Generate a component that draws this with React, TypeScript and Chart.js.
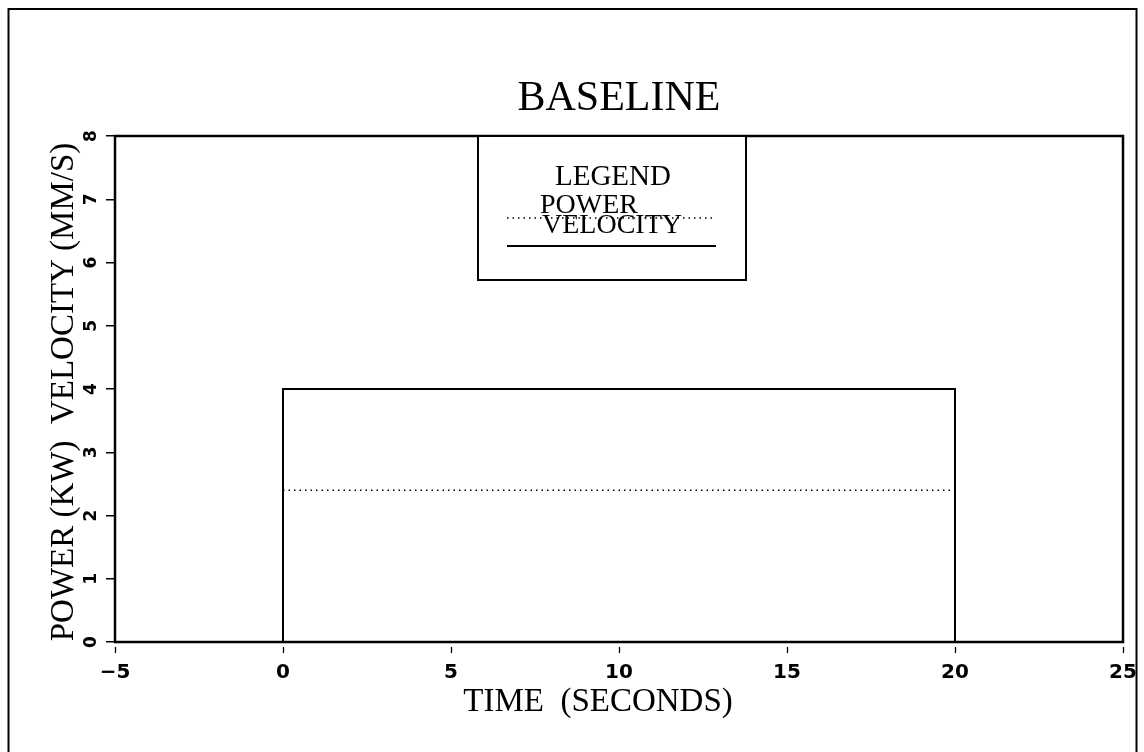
import React, { useEffect, useRef } from "react";
import { Chart, registerables } from "chart.js";

Chart.register(...registerables);

// Text
const chartTitle = "BASELINE";
const xAxisTitle = "TIME  (SECONDS)";
const yAxisTitle = "POWER (KW)  VELOCITY (MM/S)";
const legendHeading = "LEGEND";

// Axis ranges and tick labels
const xTickValues = [-5, 0, 5, 10, 15, 20, 25];
const yTickValues = [0, 1, 2, 3, 4, 5, 6, 7, 8];

// Power (kW) over time (s)
const powerTime = [0, 20];
const powerKw = [2.4, 2.4];

// Velocity (mm/s) over time (s): a step up at t=0 and back down at t=20
const velocityTime = [0, 0, 20, 20];
const velocityMmS = [0, 4, 4, 0];

const SERIF = '"Liberation Serif", "Times New Roman", serif';
const SANS = '"DejaVu Sans", sans-serif';

const toPoints = (xs: number[], ys: number[]) => xs.map((x, i) => ({ x, y: ys[i] }));

const decorations = {
  id: "decorations",
  afterDraw(chart: any) {
    const { ctx, chartArea } = chart;
    const { left, right, top, bottom } = chartArea;
    const xScale = chart.scales.x;
    ctx.save();
    ctx.strokeStyle = "#000";
    ctx.fillStyle = "#000";

    // page frame
    ctx.lineWidth = 2;
    ctx.strokeRect(8.5, 9, 1128, 800);

    // plot frame
    ctx.lineWidth = 2.5;
    ctx.strokeRect(left, top, right - left, bottom - top);

    // small detached tick marks under the time axis
    ctx.lineWidth = 1.3;
    for (const v of xTickValues) {
      const px = Math.round(xScale.getPixelForValue(v)) + 0.5;
      ctx.beginPath();
      ctx.moveTo(px, bottom + 5);
      ctx.lineTo(px, bottom + 11);
      ctx.stroke();
    }

    // chart title
    ctx.font = `42px ${SERIF}`;
    ctx.textAlign = "center";
    ctx.textBaseline = "alphabetic";
    ctx.fillText(chartTitle, (left + right) / 2, 110);

    // x axis title
    ctx.font = `33px ${SERIF}`;
    ctx.fillText(xAxisTitle, (left + right) / 2 - 21, 711);

    // y axis title (rotated)
    ctx.save();
    ctx.translate(73, (top + bottom) / 2 + 3);
    ctx.rotate(-Math.PI / 2);
    ctx.font = `33px ${SERIF}`;
    ctx.textAlign = "center";
    ctx.fillText(yAxisTitle, 0, 0);
    ctx.restore();

    // legend box
    const bx = left + 363;
    const bw = 268;
    const bh = 144;
    ctx.fillStyle = "#fff";
    ctx.fillRect(bx, top, bw, bh);
    ctx.fillStyle = "#000";
    ctx.lineWidth = 2;
    ctx.strokeRect(bx, top, bw, bh);

    ctx.font = `29px ${SERIF}`;
    ctx.textAlign = "left";
    ctx.fillText(legendHeading, bx + 77, top + 49);

    const dsPower = chart.data.datasets[0];
    const dsVel = chart.data.datasets[1];
    ctx.font = `28px ${SERIF}`;
    ctx.fillText(dsPower.label, bx + 62, top + 77);
    ctx.fillText(dsVel.label, bx + 64, top + 97);

    ctx.lineWidth = dsPower.borderWidth;
    ctx.setLineDash(dsPower.borderDash);
    ctx.beginPath();
    ctx.moveTo(bx + 29, top + 82);
    ctx.lineTo(bx + 234, top + 82);
    ctx.stroke();

    ctx.setLineDash([]);
    ctx.lineWidth = dsVel.borderWidth;
    ctx.beginPath();
    ctx.moveTo(bx + 29, top + 110);
    ctx.lineTo(bx + 238, top + 110);
    ctx.stroke();

    ctx.restore();
  },
};

export default function App() {
  const canvasRef = useRef<HTMLCanvasElement | null>(null);

  useEffect(() => {
    const canvas = canvasRef.current;
    if (!canvas) return;
    const chart = new Chart(canvas, {
      type: "line",
      data: {
        datasets: [
          {
            label: "POWER",
            data: toPoints(powerTime, powerKw),
            borderColor: "#000",
            borderWidth: 1.5,
            borderDash: [1.5, 4],
            pointRadius: 0,
            fill: false,
          },
          {
            label: "VELOCITY",
            data: toPoints(velocityTime, velocityMmS),
            borderColor: "#000",
            borderWidth: 2,
            pointRadius: 0,
            fill: false,
          },
        ],
      },
      options: {
        responsive: false,
        animation: false,
        events: [],
        layout: { padding: { top: 136, right: 21, left: 0, bottom: 0 } },
        plugins: {
          legend: { display: false },
          title: { display: false },
          tooltip: { enabled: false },
        },
        scales: {
          x: {
            type: "linear",
            min: xTickValues[0],
            max: xTickValues[xTickValues.length - 1],
            afterBuildTicks: (s: any) => {
              s.ticks = xTickValues.map((v) => ({ value: v }));
            },
            border: { display: false },
            grid: { display: false, drawTicks: false },
            ticks: {
              color: "#000",
              padding: 19,
              font: { family: SANS, size: 20, weight: "bold" },
              callback: (v: any) => String(v).replace("-", "\u2212"),
            },
            afterFit: (s: any) => {
              s.height = 110;
              s.paddingLeft = 0;
              s.paddingRight = 0;
            },
          },
          y: {
            type: "linear",
            min: yTickValues[0],
            max: yTickValues[yTickValues.length - 1],
            afterBuildTicks: (s: any) => {
              s.ticks = yTickValues.map((v) => ({ value: v }));
            },
            border: { display: false },
            grid: {
              display: true,
              drawOnChartArea: false,
              drawTicks: true,
              tickLength: 9,
              color: "#000",
              lineWidth: 1.5,
            },
            ticks: {
              color: "#000",
              minRotation: 90,
              maxRotation: 90,
              crossAlign: "center",
              padding: 9,
              font: { family: SANS, size: 17, weight: "bold" },
            },
            afterFit: (s: any) => {
              s.width = 115;
              s.paddingTop = 0;
              s.paddingBottom = 0;
            },
          },
        },
      },
      plugins: [decorations],
    } as any);
    return () => chart.destroy();
  }, []);

  return (
    <div style={{ position: "fixed", left: 0, top: 0, width: 1144, height: 752, background: "#fff" }}>
      <canvas ref={canvasRef} width={1144} height={752} />
    </div>
  );
}
